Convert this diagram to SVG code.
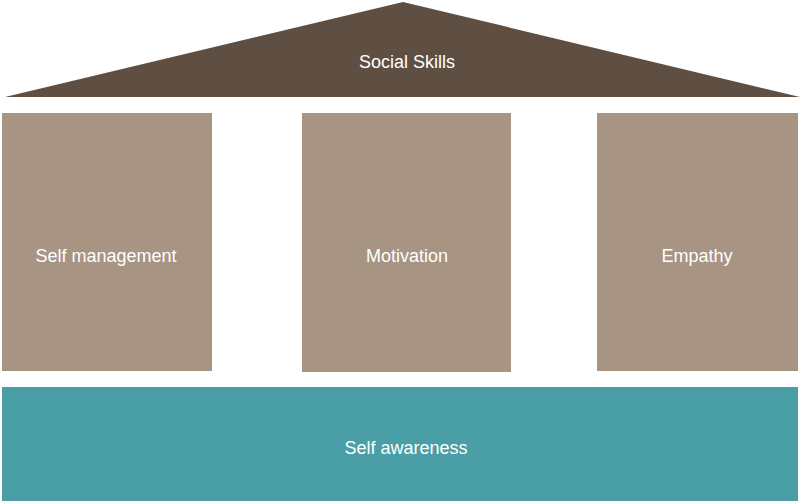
<svg xmlns="http://www.w3.org/2000/svg" width="800" height="504" viewBox="0 0 800 504">
<style>
.lbl{font-family:"Liberation Sans",Arial,sans-serif;font-size:18px;fill:#ffffff;text-anchor:middle;dominant-baseline:central}
.pillar{fill:#a79483}
</style>
<rect width="800" height="504" fill="#ffffff"/>
<g id="roof">
<polygon points="403,2 5,97 800,97" fill="#5e4f42"/>
<text class="lbl" x="407" y="62">Social Skills</text>
</g>
<g id="self-management">
<rect class="pillar" x="2" y="113" width="210" height="258"/>
<text class="lbl" x="106" y="256">Self management</text>
</g>
<g id="motivation">
<rect class="pillar" x="302" y="113" width="209" height="259"/>
<text class="lbl" x="407" y="256">Motivation</text>
</g>
<g id="empathy">
<rect class="pillar" x="597" y="113" width="201" height="258"/>
<text class="lbl" x="697" y="256">Empathy</text>
</g>
<g id="self-awareness">
<rect x="2" y="387" width="796" height="114" fill="#4a9ea6"/>
<text class="lbl" x="406" y="448">Self awareness</text>
</g>
<g id="connectors"/>
</svg>
